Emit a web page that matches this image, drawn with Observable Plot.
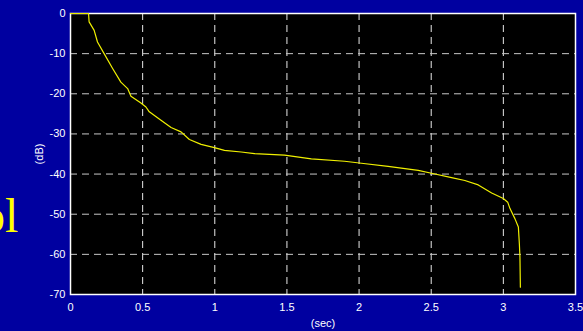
<!DOCTYPE html>
<html><head><meta charset="utf-8">
<script src="https://cdn.jsdelivr.net/npm/d3@7"></script>
<script src="https://cdn.jsdelivr.net/npm/@observablehq/plot@0.6"></script>
<style>
html,body{margin:0;padding:0;background:#0000a0;overflow:hidden}
#wrap{position:relative;width:583px;height:331px}
#side{position:absolute;left:-19px;top:192px;font-family:"Liberation Serif",serif;font-size:48px;color:#ffff00;line-height:48px;white-space:nowrap}
</style></head>
<body><div id="wrap"><div id="side">ol</div></div>
<script>
const timeSec = [0,0.125,0.129,0.164,0.187,0.233,0.292,0.349,0.396,0.419,0.488,0.523,0.546,0.627,0.697,0.766,0.824,0.905,0.997,1.067,1.183,1.275,1.483,1.669,1.90,2.016,2.201,2.41,2.502,2.641,2.733,2.826,2.919,3.0,3.03,3.046,3.08,3.104,3.111,3.115,3.118];
const levelDb = [0,0,-2.1,-4.2,-7.1,-10,-13.7,-17.1,-18.7,-20.6,-22.3,-23.3,-24.5,-26.6,-28.4,-29.5,-31.4,-32.6,-33.4,-34.1,-34.5,-34.9,-35.3,-36.2,-36.8,-37.3,-38.1,-39.1,-39.8,-40.9,-41.6,-42.7,-44.7,-46.1,-47,-48.6,-51.1,-53.2,-57.4,-60.7,-68.2];
const xTicks = [0,0.5,1,1.5,2,2.5,3,3.5];
const yTicks = [0,-10,-20,-30,-40,-50,-60,-70];
const data = timeSec.map((t,i)=>({t, db: levelDb[i]}));

const chart = Plot.plot({
  width: 583, height: 331,
  marginLeft: 70, marginRight: 8, marginTop: 13, marginBottom: 37,
  style: {background: "transparent", color: "white", fontFamily: "Liberation Sans, Arial, sans-serif", fontSize: "11px"},
  x: {domain: [0, 3.5]},
  y: {domain: [-70, 0]},
  marks: [
    Plot.frame({fill: "black"}),
    Plot.gridX(xTicks.slice(1,-1), {stroke: "#e8e8e8", strokeOpacity: 1, strokeDasharray: "7,5", strokeWidth: 1}),
    Plot.gridY(yTicks.slice(1,-1), {stroke: "#c8c8c8", strokeOpacity: 1, strokeDasharray: "7,5", strokeWidth: 1}),
    Plot.frame({stroke: "white", strokeWidth: 1.5}),
    Plot.line(data, {x: "t", y: "db", stroke: "#f0f000", strokeWidth: 1.2}),
    Plot.axisX(xTicks, {tickSize: 0, tickPadding: 9, fill: "white", fontSize: 11, tickFormat: d => String(d), label: "(sec)", labelAnchor: "center", labelArrow: "none", labelOffset: 32}),
    Plot.axisY(yTicks, {tickSize: 0, tickPadding: 5, fill: "white", fontSize: 11, tickFormat: d => String(d), label: "(dB)", labelAnchor: "center", labelArrow: "none", labelOffset: 35})
  ]
});
document.getElementById("wrap").appendChild(chart);
chart.style.position = "absolute"; chart.style.left = "0"; chart.style.top = "0";
</script></body></html>
